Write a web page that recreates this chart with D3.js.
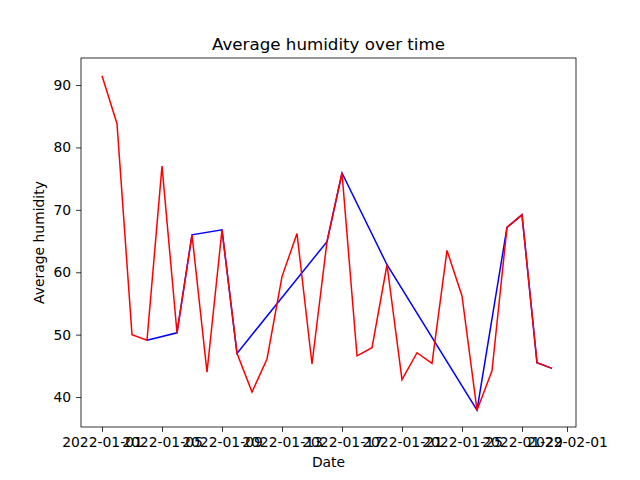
<!DOCTYPE html>
<html><head><meta charset="utf-8">
<script src="https://cdn.jsdelivr.net/npm/d3@7"></script>
<style>body{margin:0;background:#fff}text{font-family:"DejaVu Sans",sans-serif}</style>
</head><body><svg id="c" width="640" height="480"></svg>
<script>
const redDays = d3.range(0,31);
const redValues = [91.5,83.8,50,49.1,77,50.3,66,44,66.8,47,40.8,46.1,59.3,66.2,45.3,64.9,75.9,46.6,47.9,61.2,42.8,47.1,45.4,63.5,56.2,37.9,44.2,67.2,69.2,45.5,44.6];
const blueDays = [3,5,6,8,9,15,16,19,25,27,28,29,30];
const blueValues = [49.1,50.3,66,66.8,47,64.9,75.9,61.2,37.9,67.2,69.2,45.5,44.6];
const tickDays = [0,4,8,12,16,20,24,28,31];
const tickDates = ["2022-01-01","2022-01-05","2022-01-09","2022-01-13","2022-01-17","2022-01-21","2022-01-25","2022-01-29","2022-02-01"];
const yTicks = [40,50,60,70,80,90];

const svg = d3.select("#c");
const L=81,R=576,T=58,B=427;
const x = d3.scaleLinear().domain([-1.4, 31.6]).range([L,R]);
const y = d3.scaleLinear().domain([35.2,94.33]).range([B,T]);

const xa = svg.append("g").attr("transform",`translate(0,${B})`)
  .call(d3.axisBottom(x).tickValues(tickDays).tickFormat((d,i)=>tickDates[i]).tickSize(4.9).tickPadding(4.9));
const ya = svg.append("g").attr("transform",`translate(${L},0)`)
  .call(d3.axisLeft(y).tickValues(yTicks).tickSize(4.9).tickPadding(4.9));
[xa,ya].forEach(a=>{a.selectAll("text").attr("font-size",13.9).attr("fill","#000");a.select(".domain").remove();a.selectAll("line").attr("stroke","#000").attr("stroke-width",0.8);});

const line = d3.line().x(d=>x(d[0])).y(d=>y(d[1]));
svg.append("path").datum(blueDays.map((d,i)=>[d,blueValues[i]])).attr("d",line).attr("fill","none").attr("stroke","#0000ff").attr("stroke-width",1.5);
svg.append("path").datum(redDays.map((d,i)=>[d,redValues[i]])).attr("d",line).attr("fill","none").attr("stroke","#ff0000").attr("stroke-width",1.5);

svg.append("rect").attr("x",L).attr("y",T).attr("width",R-L).attr("height",B-T).attr("fill","none").attr("stroke","#000").attr("stroke-width",0.8);
svg.append("text").attr("x",(L+R)/2).attr("y",50).attr("text-anchor","middle").attr("font-size",16.7).text("Average humidity over time");
svg.append("text").attr("x",(L+R)/2).attr("y",467).attr("text-anchor","middle").attr("font-size",13.9).text("Date");
svg.append("text").attr("transform",`translate(44,${(T+B)/2}) rotate(-90)`).attr("text-anchor","middle").attr("font-size",13.9).text("Average humidity");
</script></body></html>
